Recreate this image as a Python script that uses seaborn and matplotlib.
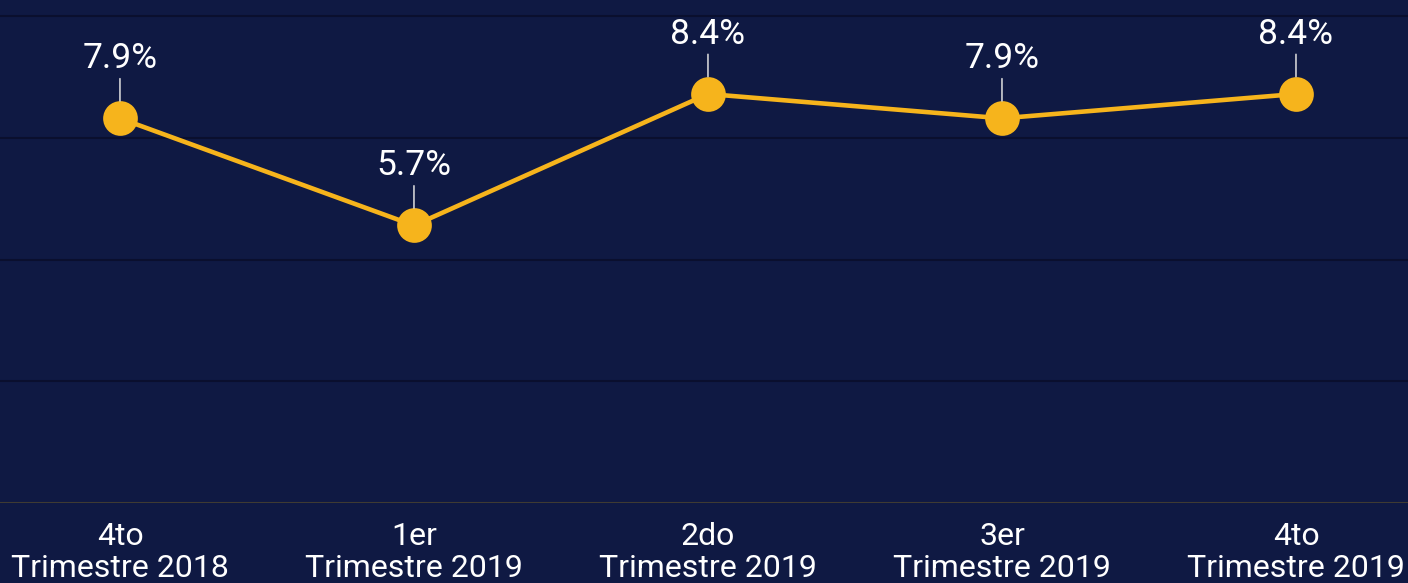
import matplotlib
matplotlib.use("Agg")
import matplotlib.pyplot as plt
import seaborn as sns
import pandas as pd

# ---- data ----
quarters = ["4to\nTrimestre 2018", "1er\nTrimestre 2019", "2do\nTrimestre 2019",
            "3er\nTrimestre 2019", "4to\nTrimestre 2019"]
values = [7.9, 5.7, 8.4, 7.9, 8.4]
value_labels = ["7.9%", "5.7%", "8.4%", "7.9%", "8.4%"]
y_grid = [0, 2.5, 5, 7.5, 10]

BG = "#0f1943"
LINE = "#f6b41c"
GRID = "#0a0f2e"

font_choice = "Roboto"
tick_size = 23
label_size = 25.5

sns.set_theme(style="dark")
plt.rcParams["font.family"] = [font_choice, "DejaVu Sans"]

fig = plt.figure(figsize=(14.08, 5.83), dpi=100, facecolor=BG)
ax = fig.add_axes([0, 80 / 583, 1, 503 / 583])
ax.set_facecolor(BG)

df = pd.DataFrame({"x": range(len(values)), "y": values})

for g in y_grid[1:]:
    ax.axhline(g, color=GRID, lw=1.5, zorder=1)
ax.axhline(0, color="#3f3b33", lw=1.5, zorder=1)

sns.lineplot(data=df, x="x", y="y", ax=ax, color=LINE, linewidth=3.3,
             marker="o", markersize=25, markeredgewidth=0, zorder=3)

for xi, yi, lab in zip(df["x"], df["y"], value_labels):
    ax.annotate(lab, xy=(xi, yi), xytext=(0, 36), textcoords="offset points",
                ha="center", va="baseline", color="white", fontsize=label_size,
                arrowprops=dict(arrowstyle="-", color="#e0e0e0", lw=1.1,
                                shrinkA=0, shrinkB=12.4),
                zorder=4)

ax.set_xlim(-0.408, 4.381)
ax.set_ylim(0, 10.33)
ax.set_xticks(range(len(quarters)))
ax.set_xticklabels(quarters, color="white", fontsize=tick_size)
for t in ax.get_xticklabels():
    t.set_linespacing(1.12)
ax.tick_params(axis="x", length=0, pad=13.5)
ax.set_yticks([])
ax.set_xlabel("")
ax.set_ylabel("")
ax.grid(False)
for s in ax.spines.values():
    s.set_visible(False)

fig.savefig("out.png", dpi=100, facecolor=BG)
